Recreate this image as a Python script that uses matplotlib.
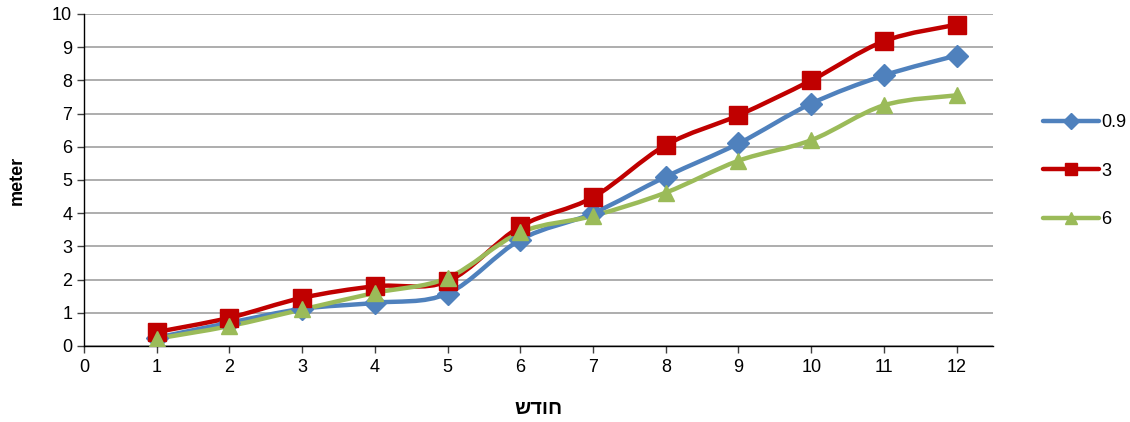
import numpy as np
import matplotlib.pyplot as plt
from matplotlib.path import Path
from matplotlib.patches import PathPatch
from matplotlib.lines import Line2D

plt.rcParams["font.family"] = ["Liberation Sans", "DejaVu Sans"]

months = [1, 2, 3, 4, 5, 6, 7, 8, 9, 10, 11, 12]
series_names = ["0.9", "3", "6"]
s_09 = [0.25, 0.7, 1.12, 1.3, 1.58, 3.2, 4.0, 5.1, 6.1, 7.3, 8.15, 8.75]
s_3 = [0.42, 0.85, 1.45, 1.8, 1.95, 3.6, 4.48, 6.05, 6.95, 8.0, 9.18, 9.68]
s_6 = [0.22, 0.6, 1.1, 1.6, 2.05, 3.42, 3.92, 4.62, 5.58, 6.2, 7.25, 7.55]

colors = ["#4F81BD", "#C00000", "#9BBB59"]
markers = ["D", "s", "^"]
msizes = [11, 13.5, 11.5]


def smooth_path(x, y, tension=1 / 6):
    # Bezier segments through each point (Catmull-Rom style tangents)
    x = np.asarray(x, float)
    y = np.asarray(y, float)
    verts = [(x[0], y[0])]
    codes = [Path.MOVETO]
    n = len(x)
    for i in range(n - 1):
        x0, y0 = (x[i - 1], y[i - 1]) if i > 0 else (x[i], y[i])
        x3, y3 = (x[i + 2], y[i + 2]) if i + 2 < n else (x[i + 1], y[i + 1])
        c1 = (x[i] + (x[i + 1] - x0) * tension, y[i] + (y[i + 1] - y0) * tension)
        c2 = (x[i + 1] - (x3 - x[i]) * tension, y[i + 1] - (y3 - y[i]) * tension)
        verts += [c1, c2, (x[i + 1], y[i + 1])]
        codes += [Path.CURVE4] * 3
    return Path(verts, codes)


fig = plt.figure(figsize=(11.3, 4.22), dpi=100)
ax = fig.add_axes([84 / 1130, 1 - 346 / 422, (993 - 84) / 1130, (346 - 14) / 422])

for vals, col, mk, ms in zip([s_09, s_3, s_6], colors, markers, msizes):
    ax.add_patch(PathPatch(smooth_path(months, vals), facecolor="none",
                           edgecolor=col, lw=3.2, capstyle="round", zorder=3))
    ax.plot(months, vals, linestyle="none", marker=mk, markersize=ms,
            color=col, zorder=4)

ax.set_xlim(0, 12.5)
ax.set_ylim(0, 10)
ax.set_xticks(range(0, 13))
ax.set_yticks(range(0, 11))
ax.yaxis.grid(True, color="#A0A0A0", lw=1.2)
ax.set_axisbelow(True)
for side in ("top", "right"):
    ax.spines[side].set_visible(False)
for side in ("left", "bottom"):
    ax.spines[side].set_color("black")
    ax.spines[side].set_linewidth(1.0)
ax.tick_params(axis="both", labelsize=13, length=5, width=1.0,
               direction="out", color="#404040")
ax.tick_params(axis="x", pad=4)
ax.set_ylabel("meter", fontsize=13, fontweight="bold", labelpad=19)
ax.set_xlabel("חודש"[::-1], fontsize=14.5, fontweight="bold", labelpad=17)

handles = [Line2D([0], [0], color=c, lw=3.2, marker=m, markersize=8,
                  solid_capstyle="round")
           for c, m in zip(colors, markers)]
fig.legend(handles, series_names, loc="center left",
           bbox_to_anchor=(1036 / 1130, 1 - 171 / 422), frameon=False,
           fontsize=13, handlelength=3.1, handletextpad=0.1,
           labelspacing=1.75, borderaxespad=0)

fig.savefig("out.png", dpi=100)
